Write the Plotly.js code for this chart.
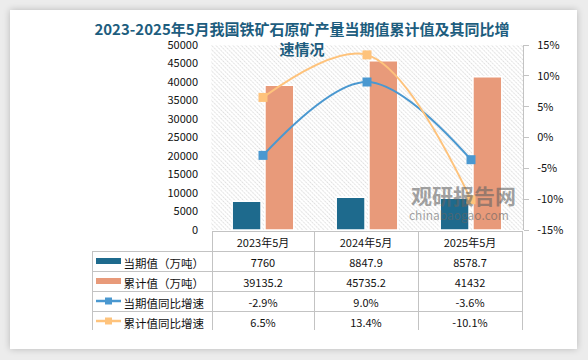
<!DOCTYPE html>
<html>
<head>
<meta charset="utf-8">
<script src="https://cdn.plot.ly/plotly-3.0.1.min.js"></script>
<style>
  html, body { margin: 0; padding: 0; background: #ececec; }
  #wrap { position: relative; width: 588px; height: 360px; overflow: hidden; background: #ececec; }
  #card { position: absolute; left: 10px; top: 10px; width: 567px; height: 339px; background: #ffffff; box-shadow: 0 0 7px rgba(0,0,0,0.22); }
  #chart { position: absolute; left: 0; top: 0; width: 588px; height: 360px; }
</style>
</head>
<body>
<div id="wrap">
  <div id="card"></div>
  <div id="chart"></div>
</div>
<script>
// ---- data ----
const categories = ['2023年5月', '2024年5月', '2025年5月'];
const currentValues = [7760, 8847.9, 8578.7];          // 当期值（万吨）
const cumulativeValues = [39135.2, 45735.2, 41432];    // 累计值（万吨）
const currentYoY = [-2.9, 9.0, -3.6];                  // 当期值同比增速 (%)
const cumulativeYoY = [6.5, 13.4, -10.1];              // 累计值同比增速 (%)
const seriesNames = ['当期值（万吨）', '累计值（万吨）', '当期值同比增速', '累计值同比增速'];
const rightTickVals = [-15, -10, -5, 0, 5, 10, 15];
const rightTickText = ['-15%', '-10%', '-5%', '0%', '5%', '10%', '15%'];
const chartTitle = '2023-2025年5月我国铁矿石原矿产量当期值累计值及其同比增<br>速情况';

// ---- styles ----
const C_CUR = '#1e6a8d';
const C_CUM = '#e89a7a';
const C_CUR_L = '#4a98d0';
const C_CUM_L = '#fec37c';
const FONT = '"Noto Sans CJK SC", "Noto Sans", sans-serif';

const W = 588, H = 360;
const px = v => v / W;
const py = v => 1 - v / H;

// table geometry (pixels)
const TBL_L = 92, TBL_R = 522, TBL_T = 231, HEAD_H = 20, ROW_H = 20;
const TBL_B = TBL_T + HEAD_H + ROW_H * seriesNames.length;

const tableCols = [seriesNames.slice()];
categories.forEach((c, i) => {
  tableCols.push([
    String(currentValues[i]),
    String(cumulativeValues[i]),
    currentYoY[i].toFixed(1) + '%',
    cumulativeYoY[i].toFixed(1) + '%'
  ]);
});

// legend keys inside the first table column
const keyColors = [C_CUR, C_CUM, C_CUR_L, C_CUM_L];
const keyKinds = ['bar', 'bar', 'line', 'line'];
const shapes = [];
keyKinds.forEach((k, i) => {
  const cy = TBL_T + HEAD_H + ROW_H * i + ROW_H / 2;
  const x0 = 96, x1 = 121;
  if (k === 'bar') {
    shapes.push({ type: 'rect', xref: 'paper', yref: 'paper', x0: px(x0), x1: px(x1), y0: py(cy + 3), y1: py(cy - 3),
      fillcolor: keyColors[i], line: { width: 0 } });
  } else {
    shapes.push({ type: 'line', xref: 'paper', yref: 'paper', x0: px(x0), x1: px(x1), y0: py(cy), y1: py(cy),
      line: { color: keyColors[i], width: 2.5 } });
    const xc = (x0 + x1) / 2;
    shapes.push({ type: 'rect', xref: 'paper', yref: 'paper', x0: px(xc - 3.5), x1: px(xc + 3.5), y0: py(cy + 3.5), y1: py(cy - 3.5),
      fillcolor: keyColors[i], line: { width: 0 } });
  }
});

const traces = [
  {
    type: 'bar', x: categories, y: currentValues, name: seriesNames[0],
    marker: { color: C_CUR, line: { color: '#ffffff', width: 1.5 } },
    xaxis: 'x', yaxis: 'y', hoverinfo: 'skip'
  },
  {
    type: 'bar', x: categories, y: cumulativeValues, name: seriesNames[1],
    marker: { color: C_CUM, line: { color: '#ffffff', width: 1.5 } },
    xaxis: 'x', yaxis: 'y', hoverinfo: 'skip'
  },
  {
    type: 'scatter', mode: 'lines+markers', x: categories, y: currentYoY, name: seriesNames[2],
    line: { color: C_CUR_L, width: 2, shape: 'spline', smoothing: 1 },
    marker: { symbol: 'square', size: 9, color: C_CUR_L },
    xaxis: 'x', yaxis: 'y2', cliponaxis: false, hoverinfo: 'skip'
  },
  {
    type: 'scatter', mode: 'lines+markers', x: categories, y: cumulativeYoY, name: seriesNames[3],
    line: { color: C_CUM_L, width: 2, shape: 'spline', smoothing: 1 },
    marker: { symbol: 'square', size: 9, color: C_CUM_L },
    xaxis: 'x', yaxis: 'y2', cliponaxis: false, hoverinfo: 'skip'
  },
  {
    type: 'table',
    domain: { x: [px(TBL_L), px(TBL_R)], y: [py(TBL_B), py(TBL_T)] },
    columnwidth: [120, 102, 104, 104],
    header: {
      values: [''].concat(categories),
      height: HEAD_H,
      align: 'center',
      fill: { color: 'rgba(255,255,255,0)' },
      line: { color: ['rgba(0,0,0,0)', '#c3c3c3', '#c3c3c3', '#c3c3c3'], width: 1 },
      font: { family: FONT, size: 11, color: '#111111' }
    },
    cells: {
      values: tableCols,
      height: ROW_H,
      align: ['right', 'center', 'center', 'center'],
      fill: { color: 'rgba(255,255,255,0)' },
      line: { color: '#c3c3c3', width: 1 },
      font: { family: FONT, size: [11.5, 11, 11, 11], color: '#111111' }
    }
  }
];

const layout = {
  width: W, height: H,
  margin: { l: 0, r: 0, t: 0, b: 0 },
  paper_bgcolor: 'rgba(0,0,0,0)',
  plot_bgcolor: '#ffffff',
  showlegend: false,
  barmode: 'group',
  bargap: 0.37,
  bargroupgap: 0.12,
  font: { family: FONT, size: 11, color: '#222222' },
  title: {
    text: chartTitle,
    x: px(302), xanchor: 'center', xref: 'paper',
    y: py(35), yanchor: 'top', yref: 'paper',
    font: { family: FONT, size: 15, color: '#1d5d7e', weight: 'bold' }
  },
  xaxis: {
    domain: [px(211), px(523)],
    type: 'category',
    showticklabels: false, showline: false, showgrid: false, zeroline: false, ticks: ''
  },
  yaxis: {
    domain: [py(230), py(45)],
    range: [0, 50000], dtick: 5000, tickformat: 'd',
    showgrid: false, zeroline: false, showline: false, ticks: '',
    ticklabelstandoff: 12,
    tickfont: { family: FONT, size: 11, color: '#111111' }
  },
  yaxis2: {
    overlaying: 'y', side: 'right', anchor: 'x',
    range: [-15, 15], tickvals: rightTickVals, ticktext: rightTickText,
    showgrid: false, zeroline: false,
    showline: true, linecolor: '#c3c3c3', linewidth: 1,
    ticks: 'outside', ticklen: 5, tickcolor: '#c3c3c3',
    ticklabelstandoff: 6,
    tickfont: { family: FONT, size: 11, color: '#111111' }
  },
  shapes: shapes,
  annotations: [
    {
      text: '观研报告网', xref: 'paper', yref: 'paper', x: px(409), y: py(195),
      xanchor: 'left', yanchor: 'middle', showarrow: false,
      font: { family: FONT, size: 21, color: 'rgba(100,100,100,0.6)', weight: 'bold' }
    },
    {
      text: 'chinabaogao.com', xref: 'paper', yref: 'paper', x: px(407), y: py(214),
      xanchor: 'left', yanchor: 'middle', showarrow: false,
      font: { family: FONT, size: 12, color: 'rgba(100,100,100,0.6)' }
    }
  ]
};

Plotly.newPlot('chart', traces, layout, { staticPlot: true, displayModeBar: false }).then(gd => {
  const ns = 'http://www.w3.org/2000/svg';
  const svg = gd.querySelector('svg.main-svg');
  let defs = svg.querySelector('defs');
  if (!defs) { defs = document.createElementNS(ns, 'defs'); svg.insertBefore(defs, svg.firstChild); }
  const pat = document.createElementNS(ns, 'pattern');
  pat.setAttribute('id', 'hatchbg');
  pat.setAttribute('patternUnits', 'userSpaceOnUse');
  pat.setAttribute('width', '3');
  pat.setAttribute('height', '3');
  pat.setAttribute('patternTransform', 'rotate(-45)');
  const r = document.createElementNS(ns, 'rect');
  r.setAttribute('width', '3'); r.setAttribute('height', '3'); r.setAttribute('fill', '#ffffff');
  const l = document.createElementNS(ns, 'line');
  l.setAttribute('x1', '0.5'); l.setAttribute('y1', '0'); l.setAttribute('x2', '0.5'); l.setAttribute('y2', '3');
  l.setAttribute('stroke', '#d6d6d6'); l.setAttribute('stroke-width', '0.8');
  l.setAttribute('stroke-dasharray', '1 0.6');
  pat.appendChild(r); pat.appendChild(l);
  defs.appendChild(pat);
  const bg = svg.querySelector('.bglayer rect.bg');
  if (bg) bg.style.fill = 'url(#hatchbg)';
});
</script>
</body>
</html>
